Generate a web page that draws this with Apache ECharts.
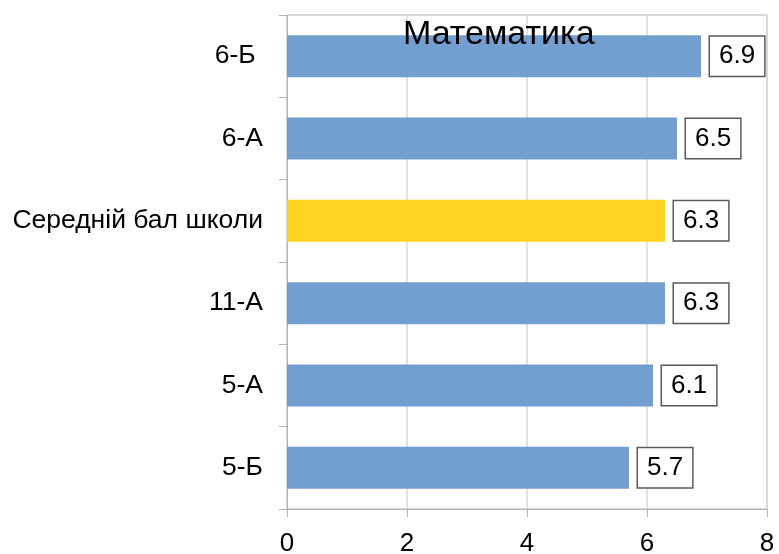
<!DOCTYPE html>
<html>
<head>
<meta charset="utf-8">
<script src="https://cdn.jsdelivr.net/npm/echarts@6/dist/echarts.min.js"></script>
<style>
  html, body { margin: 0; padding: 0; background: #fff; }
  #main { width: 779px; height: 554px; }
</style>
</head>
<body>
<div id="main"></div>
<script>
// categories from bottom to top
const categories = ['5-Б', '5-А', '11-А', 'Середній бал школи', '6-А', '6-Б ']
const scores = [5.7, 6.1, 6.3, 6.3, 6.5, 6.9]
const highlightName = 'Середній бал школи'
const xTicks = [0, 2, 4, 6, 8]

const font = '"Liberation Sans", Arial, sans-serif'
const chart = echarts.init(document.getElementById('main'))

const option = {
  animation: false,
  title: {
    text: 'Математика',
    left: 398,
    top: 13,
    textStyle: { fontFamily: font, fontSize: 34, fontWeight: 'normal', color: '#000' }
  },
  grid: {
    left: 287, right: 12, top: 15, bottom: 45,
    outerBoundsMode: 'none',
    show: true, borderColor: '#b3b3b3', borderWidth: 1
  },
  xAxis: {
    type: 'value',
    min: xTicks[0],
    max: xTicks[xTicks.length - 1],
    interval: 2,
    axisLine: { show: true, lineStyle: { color: '#b3b3b3' } },
    axisTick: { show: true, length: 8, lineStyle: { color: '#b3b3b3' } },
    splitLine: { lineStyle: { color: '#d9d9d9', width: 1.5 } },
    axisLabel: { color: '#000', fontFamily: font, fontSize: 26, margin: 22 }
  },
  yAxis: {
    type: 'category',
    data: categories,
    axisLine: { show: true, lineStyle: { color: '#b3b3b3' } },
    axisTick: { show: true, length: 8, lineStyle: { color: '#b3b3b3' } },
    axisLabel: { color: '#000', fontFamily: font, fontSize: 26.5, margin: 24 }
  },
  series: [{
    type: 'bar',
    barWidth: '51%',
    data: scores.map((v, i) => ({
      value: v,
      itemStyle: { color: categories[i] === highlightName ? '#ffd320' : '#729fcf' }
    })),
    label: {
      show: true,
      position: 'right',
      distance: 9,
      color: '#000',
      fontFamily: font,
      fontSize: 26,
      backgroundColor: '#fff',
      borderColor: '#595959',
      borderWidth: 1.5,
      padding: [7, 9, 6, 9]
    }
  }]
}

option && chart.setOption(option)
</script>
</body>
</html>
